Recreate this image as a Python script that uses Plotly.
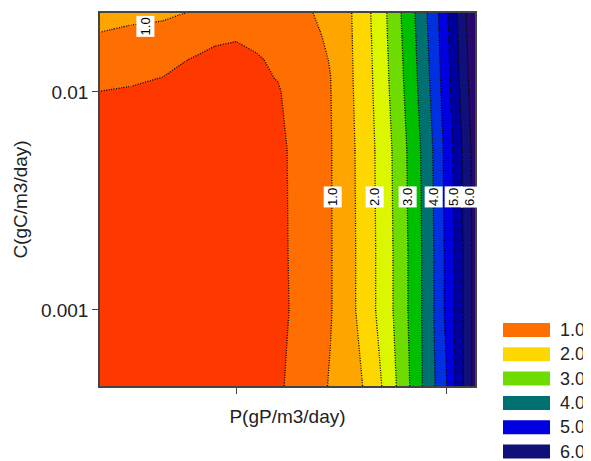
import math
import plotly.graph_objects as go

# ---- data ----
P = [0.0352, 0.05, 0.065, 0.075, 0.09, 0.1, 0.11, 0.12, 0.13, 0.14, 0.145, 0.15,
     0.155, 0.16, 0.165, 0.17, 0.175, 0.18, 0.185, 0.19, 0.195, 0.2, 0.205, 0.21, 0.2138]
C = [0.000448, 0.001, 0.00189, 0.00542, 0.01, 0.01147, 0.01402, 0.01786, 0.023]

Z_row_0 = [0.38, 0.37, 0.36, 0.36, 0.36, 0.37, 0.39, 0.43, 0.67, 0.909, 1.036,
           1.186, 1.336, 1.486, 1.75, 2.034, 2.397, 2.778, 3.188, 3.615, 4.02, 4.458, 5.094, 5.722, 6.19]
Z_row_1 = [0.39, 0.38, 0.37, 0.37, 0.36, 0.36, 0.36, 0.375, 0.614, 0.852, 0.972,
           1.174, 1.402, 1.65, 1.913, 2.206, 2.517, 2.867, 3.232, 3.625, 4.075, 4.6, 5.139, 5.722, 6.19]
Z_row_2 = [0.40, 0.39, 0.38, 0.38, 0.37, 0.37, 0.37, 0.39, 0.622, 0.856, 0.972,
           1.174, 1.402, 1.65, 1.913, 2.206, 2.517, 2.867, 3.232, 3.625, 4.075, 4.6, 5.139, 5.722, 6.19]
Z_row_3 = [0.42, 0.41, 0.40, 0.40, 0.39, 0.39, 0.39, 0.40, 0.63, 0.859, 0.973,
           1.202, 1.416, 1.667, 1.933, 2.231, 2.549, 2.903, 3.27, 3.669, 4.117, 4.643, 5.189, 5.772, 6.229]
Z_row_4 = [0.495, 0.47, 0.45, 0.44, 0.43, 0.42, 0.43, 0.47, 0.676, 0.882, 0.985,
           1.276, 1.453, 1.712, 1.987, 2.299, 2.635, 2.999, 3.37, 3.786, 4.228, 4.759, 5.322, 5.906, 6.333]
Z_row_5 = [0.6, 0.54, 0.49, 0.47, 0.45, 0.44, 0.455, 0.509, 0.704, 0.898, 0.995,
           1.291, 1.46, 1.721, 1.997, 2.312, 2.652, 3.018, 3.39, 3.809, 4.251, 4.782, 5.349, 5.932, 6.354]
Z_row_6 = [0.78, 0.68, 0.6, 0.505, 0.47, 0.46, 0.48, 0.54, 0.767, 0.927, 1.02,
           1.309, 1.469, 1.732, 2.011, 2.329, 2.674, 3.042, 3.415, 3.838, 4.279, 4.811, 5.382, 5.966, 6.38]
Z_row_7 = [0.95, 0.88, 0.86, 0.75, 0.52, 0.51, 0.55, 0.64, 0.78, 0.97, 1.12,
           1.333, 1.481, 1.747, 2.028, 2.351, 2.702, 3.073, 3.447, 3.876, 4.315, 4.849, 5.425, 6.009, 6.414]
Z_row_8 = [1.2, 1.12, 1.07, 1.005, 0.9, 0.85, 0.8, 0.8, 0.82, 1.09, 1.224,
           1.359, 1.494, 1.763, 2.047, 2.375, 2.732, 3.107, 3.482, 3.917, 4.354, 4.889, 5.472, 6.056, 6.45]
Z = [Z_row_0, Z_row_1, Z_row_2, Z_row_3, Z_row_4, Z_row_5, Z_row_6, Z_row_7, Z_row_8]

level_start, level_end, level_step = 0.5, 6.0, 0.5
band_colors = ["#FF3800", "#FF6E00", "#FFA500", "#FFD700", "#DCF500", "#6EDC00",
               "#00BE00", "#007070", "#0030E0", "#0000E0", "#0000A0", "#10107A", "#28086E"]
legend_labels = ["1.0", "2.0", "3.0", "4.0", "5.0", "6.0"]
legend_colors = ["#FF6E00", "#FFD700", "#6EDC00", "#007070", "#0000E0", "#10107A"]

# contour label annotations: (text, P, C)
label_text = ["1.0", "1.0", "2.0", "3.0", "4.0", "5.0", "6.0"]
label_P = [0.0567, 0.1462, 0.1662, 0.1819, 0.1943, 0.2038, 0.2115]
label_C = [0.0200, 0.0033, 0.0033, 0.0033, 0.0033, 0.0033, 0.0033]

# ---- figure ----
n = len(band_colors)
colorscale = [[i / (n - 1), c] for i, c in enumerate(band_colors)]

fig = go.Figure()
fig.add_trace(go.Contour(
    x=P, y=C, z=Z,
    colorscale=colorscale, showscale=False,
    autocontour=False,
    contours=dict(start=level_start, end=level_end, size=level_step, coloring="fill"),
    line=dict(color="black", width=1.3, dash="1px,1.5px", smoothing=0),
    hoverinfo="skip",
))

FONT = "Arial, Liberation Sans, Helvetica, sans-serif"
FS = 19
annotations = []
for t, px, cy in zip(label_text, label_P, label_C):
    annotations.append(dict(x=px, y=math.log10(cy), yref="y", xref="x", text=t, showarrow=False,
                            textangle=-90, bgcolor="white", borderpad=1,
                            font=dict(family=FONT, size=13, color="black")))

# page has an 8px body margin; figure is sized so the plot area lands at
# x 100..475 px, y 13..386 px of the window
OFF = 8
FIG_W, FIG_H = 591 - OFF, 461 - OFF
L, R, T, B = 100, 475, 13, 386
W, H = R - L, B - T
shapes = []
for i, (lab, col) in enumerate(zip(legend_labels, legend_colors)):
    yc = 330 + i * 24.3
    shapes.append(dict(type="rect", xref="paper", yref="paper",
                       x0=(503 - L) / W, x1=(550 - L) / W,
                       y0=(B - yc - 7) / H, y1=(B - yc + 7) / H,
                       fillcolor=col, line=dict(width=0)))
    annotations.append(dict(xref="paper", yref="paper", x=(558 - L) / W, y=(B - yc) / H,
                            xanchor="left", yanchor="middle", text=lab, showarrow=False,
                            font=dict(family=FONT, size=18, color="#222")))

fig.update_layout(
    width=FIG_W, height=FIG_H,
    margin=dict(l=L - OFF, r=591 - R, t=T - OFF, b=461 - B, autoexpand=False),
    paper_bgcolor="white", plot_bgcolor="white",
    showlegend=False,
    font=dict(family=FONT, size=FS, color="#222"),
    annotations=annotations, shapes=shapes,
    xaxis=dict(range=[P[0], P[-1]], tickvals=[0.1, 0.2], ticktext=["", ""],
               ticks="outside", ticklen=6, tickcolor="#444",
               showline=True, linecolor="#444", linewidth=1.5, mirror=True,
               showgrid=False, zeroline=False,
               title=dict(text="P(gP/m3/day)", font=dict(size=FS), standoff=13)),
    yaxis=dict(type="log", range=[math.log10(C[0]), math.log10(C[-1])], tickvals=[0.001, 0.01],
               ticktext=["0.001", "0.01"], ticks="outside", ticklen=6, tickcolor="#444",
               showline=True, linecolor="#444", linewidth=1.5, mirror=True,
               showgrid=False, zeroline=False, tickfont=dict(size=FS),
               title=dict(text="C(gC/m3/day)", font=dict(size=FS), standoff=8)),
)

fig.write_html("out.html")
